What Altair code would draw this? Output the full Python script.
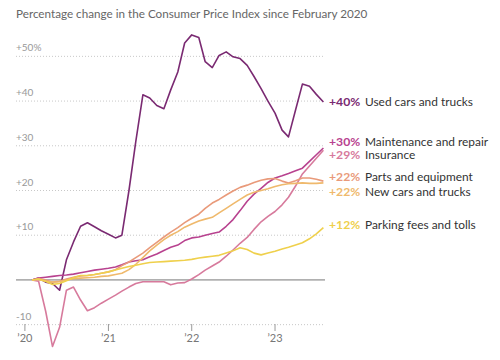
import altair as alt
import pandas as pd

# Monthly observations, Feb 2020 .. Aug 2023
months = pd.date_range("2020-02-01", "2023-08-01", freq="MS").strftime("%Y-%m-%d").tolist()

series = ["Used cars and trucks", "Maintenance and repair", "Insurance",
          "Parts and equipment", "New cars and trucks", "Parking fees and tolls"]
colors = ["#7a2a72", "#b8428f", "#d77a9c", "#e99a7a", "#efb96c", "#efd04c"]

used_cars = [0, 0.4, -0.5, -0.8, -2.3, 4.5, 8.5, 12, 12.8, 11.9, 11.0, 10.2, 9.4, 10,
             20, 31, 41.4, 40.7, 39, 38.3, 42.5, 46.5, 53, 54.8, 54.2, 48.8, 47.5, 50.2,
             51, 49.9, 49.5, 48, 45.5, 42.8, 40, 37.3, 33.5, 32, 38, 43.8, 43.3, 41.5, 39.8]
maintenance = [0, 0.4, 0.6, 0.8, 1.0, 1.1, 1.3, 1.6, 1.9, 2.2, 2.4, 2.6, 2.9, 3.4,
               4.0, 4.3, 4.5, 5.2, 5.8, 6.6, 7.3, 7.8, 8.8, 9.4, 9.6, 10.0, 10.4, 10.7,
               12.0, 13.5, 15.5, 17.6, 19.2, 20.5, 21.8, 22.8, 23.3, 23.8, 24.4, 25.0,
               26.5, 28.0, 29.5]
insurance = [0, -0.3, -7, -14.9, -10.6, -2.3, -1.6, -4.5, -6.9, -6.2, -5.2, -4.3, -3.4,
             -2.5, -1.6, -0.8, -0.4, -0.4, -0.4, -0.4, -1.1, -0.7, -0.6, 0.2, 1.2, 2.2,
             3.1, 4.0, 5.3, 6.7, 8.2, 9.5, 11.3, 13.0, 14.2, 15.3, 16.8, 18.5, 21.0,
             23.7, 25.5, 27.2, 29.0]
parts = [0, 0.3, 0, -0.5, -0.3, 0.2, 0.6, 0.9, 1.0, 1.2, 1.5, 1.8, 2.3, 3.2, 4.0, 5.0,
         6.0, 7.2, 8.4, 9.6, 10.7, 11.7, 12.8, 13.8, 14.7, 16.0, 17.2, 18.0, 19.0, 19.9,
         20.7, 21.2, 21.8, 22.3, 22.6, 22.7, 22.1, 21.7, 22.2, 22.8, 22.8, 22.5, 22.1]
new_cars = [0, 0.1, -0.3, -0.5, -0.4, 0, 0.3, 0.4, 0.5, 0.6, 0.8, 0.9, 1.2, 1.5, 2.3,
            3.5, 5.0, 6.5, 7.8, 9.0, 10.0, 10.8, 11.8, 12.5, 13.2, 13.6, 14.0, 15.0,
            16.0, 17.0, 18.0, 19.0, 19.6, 20.0, 20.4, 20.9, 21.3, 21.5, 21.6, 21.7,
            21.6, 21.6, 21.7]
parking = [0, 0.2, -0.3, -1.0, -0.8, -0.2, 0.5, 1.0, 1.0, 1.2, 1.5, 1.8, 2.2, 2.6, 3.0,
           3.3, 3.6, 3.9, 4.0, 4.1, 4.2, 4.3, 4.4, 4.6, 4.9, 5.1, 5.3, 5.5, 6.0, 6.5,
           7.2, 6.8, 6.0, 5.6, 6.0, 6.4, 6.9, 7.3, 7.8, 8.3, 9.2, 10.3, 11.7]

end_labels = ["+40%", "+30%", "+29%", "+22%", "+22%", "+12%"]
label_y = [39.9, 30.9, 27.9, 23.0, 19.7, 12.3]

grid_values = [-10, 10, 20, 30, 40, 50]
grid_labels = ["-10", "+10", "+20", "+30", "+40", "+50%"]

year_ticks = ["2020-01-01", "2021-01-01", "2022-01-01", "2023-01-01"]
year_labels = ["\u201920", "\u201921", "\u201922", "\u201923"]

title_text = "Percentage change in the Consumer Price Index since February 2020"

FONT = "Lato"

all_values = [used_cars, maintenance, insurance, parts, new_cars, parking]
rows = []
for name, vals in zip(series, all_values):
    for m, v in zip(months, vals):
        rows.append({"date": m, "value": v, "series": name})
df = pd.DataFrame(rows)

labels_df = pd.DataFrame({"series": series, "pct": end_labels, "y": label_y})
grid_df = pd.DataFrame({"v": grid_values, "lab": grid_labels})
ticks_df = pd.DataFrame({"date": year_ticks, "lab": year_labels})

xscale = alt.Scale(type="utc", domain=[alt.DateTime(year=2019, month=11, date=23, utc=True),
                                       alt.DateTime(year=2023, month=8, date=8, utc=True)])
yscale = alt.Scale(domain=[-15, 55])
color = alt.Color("series:N", scale=alt.Scale(domain=series, range=colors), legend=None)

W, H = 309, 313

grid = alt.Chart(grid_df).mark_rule(color="#c8c8c8", strokeDash=[1, 2], strokeWidth=1).encode(
    y=alt.Y("v:Q", scale=yscale, axis=None), x=alt.value(0), x2=alt.value(W))
zero = alt.Chart(pd.DataFrame({"v": [0]})).mark_rule(color="#777", strokeWidth=1).encode(
    y=alt.Y("v:Q", scale=yscale, axis=None), x=alt.value(0), x2=alt.value(W))
ylabels = alt.Chart(grid_df).mark_text(align="left", baseline="middle", dy=-8, fontSize=10,
                                       color="#999", font=FONT).encode(
    y=alt.Y("v:Q", scale=yscale, axis=None), x=alt.value(0), text="lab:N")

lines = alt.Chart(df).mark_line(strokeWidth=1.6, strokeJoin="round").encode(
    x=alt.X("date:T", scale=xscale, axis=None),
    y=alt.Y("value:Q", scale=yscale, axis=None),
    color=color,
    order=alt.Order("date:T"),
    detail="series:N")

xticks = alt.Chart(ticks_df).mark_rule(color="#999", strokeWidth=1).encode(
    x=alt.X("date:T", scale=xscale, axis=None), y=alt.value(290), y2=alt.value(297))
xlabels = alt.Chart(ticks_df).mark_text(baseline="middle", fontSize=11, color="#777",
                                        font=FONT).encode(
    x=alt.X("date:T", scale=xscale, axis=None), y=alt.value(305), text="lab:N")

pct = alt.Chart(labels_df).mark_text(align="left", baseline="middle", fontSize=12.2,
                                     fontWeight="bold", font=FONT).encode(
    x=alt.value(313), y=alt.Y("y:Q", scale=yscale, axis=None), text="pct:N", color=color)
names = alt.Chart(labels_df).mark_text(align="left", baseline="middle", fontSize=11.9,
                                       color="#333", font=FONT).encode(
    x=alt.value(349), y=alt.Y("y:Q", scale=yscale, axis=None), text="series:N")

title = alt.Chart(pd.DataFrame({"t": [title_text]})).mark_text(
    align="left", baseline="top", fontSize=11.7, color="#666", font=FONT).encode(
    x=alt.value(0), y=alt.value(-25), text="t:N")

chart = alt.layer(grid, zero, ylabels, lines, xticks, xlabels, pct, names, title).properties(
    width=W, height=H,
    autosize=alt.AutoSizeParams(type="none"),
    padding={"left": 8, "top": 26, "right": 167, "bottom": 5},
).configure_view(stroke=None)

chart.save("out.html", embed_options={"renderer": "svg", "actions": False})
